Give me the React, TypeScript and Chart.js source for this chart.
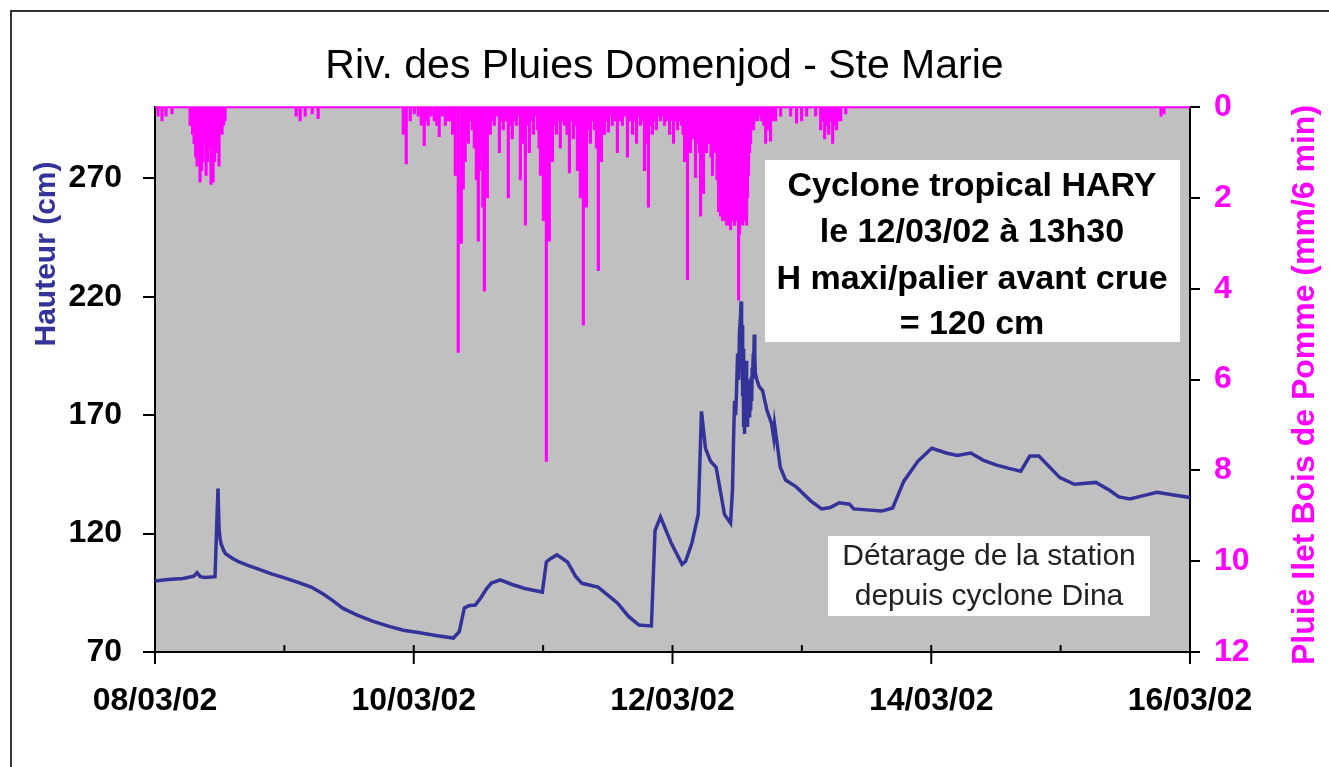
import React, { useEffect, useRef } from 'react';
import { Chart, registerables } from 'chart.js';

Chart.register(...registerables);

const FONT = '"Liberation Sans", Arial, Helvetica, sans-serif';

const TITLE = 'Riv. des Pluies Domenjod - Ste Marie';
const LEFT_AXIS_TITLE = 'Hauteur (cm)';
const RIGHT_AXIS_TITLE = 'Pluie Ilet Bois de Pomme (mm/6 min)';

// x axis: days since 08/03/02 00:00
const DATE_LABELS = ['08/03/02', '09/03/02', '10/03/02', '11/03/02', '12/03/02', '13/03/02', '14/03/02', '15/03/02', '16/03/02'];
const LEVEL_TICKS = [70, 120, 170, 220, 270];
const RAIN_TICK_STEP = 2;

// Water level (cm)
const levelDays = [
  0, 0.10, 0.217, 0.30, 0.325, 0.35, 0.387, 0.464, 0.478, 0.487, 0.495, 0.503, 0.511, 0.53, 0.545,
  0.60, 0.65, 0.712, 0.80, 0.90, 0.983, 1.10, 1.207, 1.30, 1.369, 1.45, 1.563, 1.68,
  1.810, 1.92, 2.035, 2.17, 2.306, 2.352, 2.391, 2.43, 2.476, 2.52, 2.560, 2.600, 2.669, 2.76, 2.859, 2.994,
  3.025, 3.060, 3.107, 3.188, 3.250, 3.300, 3.424, 3.50, 3.574, 3.66, 3.741, 3.837, 3.865, 3.907,
  3.99, 4.074, 4.101, 4.150, 4.199, 4.224, 4.255, 4.294, 4.337, 4.370, 4.402, 4.449,
  4.464, 4.472, 4.480, 4.488, 4.495, 4.503, 4.511, 4.518, 4.526, 4.530, 4.534, 4.538, 4.542, 4.546,
  4.550, 4.554, 4.557, 4.561, 4.565, 4.569, 4.573, 4.577, 4.580, 4.584, 4.588, 4.592, 4.596, 4.600,
  4.604, 4.608, 4.612, 4.616, 4.619, 4.624, 4.627, 4.632, 4.636, 4.640, 4.647, 4.654, 4.670, 4.696,
  4.730, 4.766, 4.782, 4.789, 4.833, 4.874, 4.959, 5.068, 5.153, 5.220, 5.288, 5.369, 5.400, 5.500,
  5.617, 5.702, 5.787, 5.896, 6.004, 6.116, 6.200, 6.306, 6.400, 6.499, 6.600, 6.692, 6.762, 6.832,
  6.994, 7.106, 7.273, 7.381, 7.450, 7.536, 7.640, 7.745, 7.850, 7.992, 8.0,
];
const levelCm = [
  100, 100.6, 101, 102, 103.5, 101.8, 101.5, 101.8, 125, 139, 122, 118, 115.6, 113, 111.5,
  109.5, 108, 106.7, 105, 103, 101.6, 99.5, 97.4, 94.5, 91.9, 88.5, 85.6, 83,
  80.8, 79.2, 78.2, 77, 75.9, 78.6, 88.6, 89.6, 89.8, 93, 96.5, 99.1, 100.5, 98.5, 96.8, 95.3,
  108, 109.5, 111, 108, 102, 99, 97.4, 94, 90.7, 85, 81.4, 81, 121.3, 127,
  116, 107, 108.3, 116, 128, 171.6, 156, 150.5, 148, 138, 128, 124.4,
  139, 160, 176, 170, 180, 196, 185, 205, 212, 218, 195, 208, 178, 198,
  165, 185, 162, 190, 175, 193, 168, 185, 165, 180, 170, 183, 169, 182,
  172, 186, 176, 190, 185, 196, 190, 204, 195, 188, 186, 184.6, 182, 180.4,
  172, 166.4, 160.6, 166, 148, 142.6, 139.6, 133.8, 130.4, 131, 133, 132.4, 130.4, 130,
  129.5, 130.8, 142, 150.5, 156, 154, 153, 154, 151, 149, 147.5, 146.3, 152.7, 152.7,
  143.6, 140.8, 141.6, 138.2, 135.5, 134.6, 136, 137.4, 136.5, 135.3, 135.5,
];

// Rain (mm / 6 min)
const rainDays = [
  0.023, 0.054, 0.085, 0.132, 0.271, 0.290, 0.302, 0.314, 0.325, 0.337, 0.348, 0.360, 0.371, 0.383, 0.395, 0.407,
  0.418, 0.433, 0.449, 0.460, 0.472, 0.484, 0.495, 0.507, 0.518, 0.530, 0.542,
  1.091, 1.122, 1.161, 1.215, 1.261,
  1.919, 1.942, 1.973, 2.005, 2.035, 2.058, 2.081, 2.097, 2.112, 2.135, 2.159, 2.178, 2.197, 2.220, 2.244, 2.263,
  2.282, 2.300, 2.321, 2.344, 2.368, 2.383, 2.398, 2.410, 2.422, 2.437, 2.453, 2.468, 2.484, 2.499, 2.510, 2.522,
  2.534, 2.546, 2.557, 2.569, 2.580, 2.592, 2.608, 2.623, 2.642, 2.662, 2.677, 2.692, 2.711, 2.731, 2.746, 2.762,
  2.777, 2.793, 2.808, 2.824, 2.843, 2.863, 2.878, 2.894, 2.910, 2.925, 2.940, 2.956, 2.968, 2.979, 2.990, 3.002,
  3.014, 3.025, 3.037, 3.048, 3.060, 3.072, 3.087, 3.103, 3.118, 3.133, 3.148, 3.164, 3.184, 3.203, 3.218, 3.234,
  3.250, 3.265, 3.276, 3.288, 3.300, 3.311, 3.323, 3.335, 3.350, 3.366, 3.381, 3.397, 3.412, 3.427, 3.439, 3.451,
  3.462, 3.474, 3.490, 3.505, 3.520, 3.536, 3.555, 3.574, 3.594, 3.613, 3.632, 3.652, 3.671, 3.691, 3.706, 3.722,
  3.737, 3.752, 3.768, 3.783, 3.798, 3.814, 3.830, 3.845, 3.860, 3.876, 3.891, 3.907, 3.922, 3.938, 3.957, 3.977,
  3.992, 4.008, 4.023, 4.039, 4.054, 4.070, 4.081, 4.093, 4.104, 4.116, 4.128, 4.139, 4.151, 4.163, 4.178, 4.190,
  4.201, 4.209, 4.217, 4.228, 4.240, 4.251, 4.263, 4.275, 4.286, 4.298, 4.309, 4.321, 4.333, 4.344, 4.356, 4.364,
  4.371, 4.379, 4.387, 4.395, 4.402, 4.410, 4.418, 4.425, 4.433, 4.441, 4.449, 4.456, 4.464, 4.472, 4.480, 4.488,
  4.495, 4.503, 4.511, 4.518, 4.526, 4.534, 4.542, 4.550, 4.557, 4.565, 4.573, 4.580, 4.588, 4.596, 4.604, 4.615,
  4.627, 4.642, 4.658, 4.673, 4.689, 4.705, 4.720, 4.739, 4.758, 4.777, 4.797, 4.836, 4.913, 4.959, 4.998, 5.037,
  5.106, 5.145, 5.160, 5.176, 5.191, 5.207, 5.222, 5.238, 5.253, 5.269, 5.285, 5.300, 5.339,
  7.776, 7.799,
];
const rainMm = [
  0.2, 0.3, 0.2, 0.15, 0.4, 0.6, 0.8, 1.1, 1.3, 1.0, 1.65, 1.4, 1.2, 0.8, 1.5, 1.2,
  0.9, 1.7, 1.65, 1.2, 1.0, 0.8, 1.3, 0.5, 0.6, 0.4, 0.3,
  0.2, 0.3, 0.2, 0.15, 0.25,
  0.6, 1.25, 0.3, 0.15, 0.2, 0.4, 0.85, 0.3, 0.4, 0.2, 0.3, 0.4, 0.65, 0.2, 0.4, 0.3,
  0.3, 0.6, 1.5, 5.4, 3.0, 1.8, 1.2, 0.6, 0.8, 0.3, 0.5, 0.9, 1.6, 2.95, 1.4, 1.0,
  2.2, 4.05, 1.1, 2.0, 0.5, 0.6, 0.3, 0.4, 0.2, 1.0, 0.3, 0.5, 0.3, 2.0, 0.4, 0.7,
  0.3, 0.4, 0.2, 1.6, 0.8, 2.6, 0.4, 1.0, 0.3, 0.6, 0.2, 0.5, 0.9, 1.5, 1.1, 2.5,
  0.8, 7.8, 1.2, 2.95, 0.6, 1.2, 0.4, 0.6, 0.3, 0.9, 0.3, 0.4, 0.6, 1.45, 0.3, 0.7,
  0.4, 1.4, 0.9, 2.0, 1.2, 4.8, 1.0, 2.2, 0.5, 0.8, 0.3, 0.5, 0.9, 3.6, 0.5, 1.2,
  0.3, 0.6, 0.3, 0.55, 0.2, 0.4, 0.3, 1.0, 0.3, 0.4, 0.2, 1.1, 0.3, 0.6, 0.3, 0.8,
  0.2, 0.4, 0.3, 1.4, 0.8, 2.2, 0.4, 0.6, 0.3, 0.5, 0.2, 0.3, 0.2, 0.4, 0.3, 0.6,
  0.3, 0.8, 0.3, 0.5, 0.3, 0.4, 0.6, 1.2, 0.9, 3.8, 0.8, 1.0, 0.4, 0.7, 1.55, 0.6,
  0.8, 1.0, 2.4, 1.2, 1.9, 0.7, 1.0, 0.5, 0.8, 1.1, 1.5, 1.0, 0.9, 1.6, 2.3, 2.1,
  2.4, 2.2, 2.5, 2.3, 2.3, 2.5, 2.6, 2.2, 2.4, 2.6, 2.7, 2.3, 2.5, 2.4, 2.6, 2.2,
  2.4, 2.5, 4.25, 2.8, 2.5, 2.3, 2.6, 2.4, 2.3, 2.5, 2.6, 2.0, 1.5, 1.0, 0.8, 0.4,
  0.5, 0.3, 0.3, 0.2, 0.3, 0.4, 0.8, 0.5, 0.75, 0.3, 0.3, 0.2, 0.2, 0.35, 0.3, 0.2,
  0.2, 0.5, 0.3, 0.7, 0.4, 0.6, 0.3, 0.8, 0.4, 0.5, 0.3, 0.3, 0.15,
  0.2, 0.15,
];

const NOTE_HARY = ['Cyclone tropical HARY', 'le 12/03/02 à 13h30', 'H maxi/palier avant crue', '= 120 cm'];
const NOTE_DINA = ['Détarage de la station', 'depuis cyclone Dina'];

const LEVEL_COLOR = '#333399';
const RAIN_COLOR = '#FF00FF';

const decorPlugin = {
  id: 'decor',
  beforeDraw(chart: any) {
    const { ctx, chartArea: a } = chart;
    ctx.save();
    ctx.fillStyle = '#ffffff';
    ctx.fillRect(0, 0, chart.width, chart.height);
    ctx.fillStyle = '#C0C0C0';
    ctx.fillRect(a.left, a.top, a.right - a.left, a.bottom - a.top);
    ctx.strokeStyle = '#333333';
    ctx.lineWidth = 2;
    ctx.beginPath();
    ctx.moveTo(11, chart.height + 5);
    ctx.lineTo(11, 11);
    ctx.lineTo(chart.width + 5, 11);
    ctx.stroke();
    ctx.restore();
  },
  afterDatasetsDraw(chart: any) {
    const { ctx, chartArea: a, scales } = chart;
    const xs = scales.x;
    const y2 = scales.y2;
    ctx.save();
    // zero-rain line at top
    const zeroY = y2.getPixelForValue(0);
    ctx.strokeStyle = RAIN_COLOR;
    ctx.lineWidth = 2;
    ctx.beginPath();
    ctx.moveTo(a.left, zeroY);
    ctx.lineTo(a.right, zeroY);
    ctx.stroke();
    // x tick marks (major cross axis, minor inside)
    ctx.strokeStyle = '#000';
    ctx.lineWidth = 2;
    for (let d = 0; d < DATE_LABELS.length; d++) {
      const px = xs.getPixelForValue(d);
      ctx.beginPath();
      if (d % 2 === 0) {
        ctx.moveTo(px, a.bottom - 7);
        ctx.lineTo(px, a.bottom + 12);
      } else {
        ctx.moveTo(px, a.bottom - 7);
        ctx.lineTo(px, a.bottom);
      }
      ctx.stroke();
    }
    // Note boxes
    ctx.fillStyle = '#ffffff';
    ctx.fillRect(765, 160, 415, 182);
    ctx.fillRect(828, 536, 322, 80);
    ctx.fillStyle = '#000';
    ctx.textAlign = 'center';
    ctx.textBaseline = 'middle';
    ctx.font = `bold 34px ${FONT}`;
    const haryY = [187, 233, 280, 325];
    NOTE_HARY.forEach((t, i) => ctx.fillText(t, 972, haryY[i]));
    ctx.fillStyle = '#222';
    ctx.font = `30px ${FONT}`;
    const dinaY = [557, 597];
    NOTE_DINA.forEach((t, i) => ctx.fillText(t, 989, dinaY[i]));
    // axis titles
    ctx.save();
    ctx.translate(47, 254);
    ctx.rotate(-Math.PI / 2);
    ctx.fillStyle = LEVEL_COLOR;
    ctx.font = `bold 30px ${FONT}`;
    ctx.fillText(LEFT_AXIS_TITLE, 0, 0);
    ctx.restore();
    ctx.save();
    ctx.translate(1305, 385);
    ctx.rotate(-Math.PI / 2);
    ctx.fillStyle = RAIN_COLOR;
    ctx.font = `bold 32px ${FONT}`;
    ctx.fillText(RIGHT_AXIS_TITLE, 0, 0);
    ctx.restore();
    ctx.restore();
  },
};

export default function App() {
  const canvasRef = useRef<HTMLCanvasElement | null>(null);

  useEffect(() => {
    if (!canvasRef.current) return;
    const tickFont = { family: FONT, size: 32, weight: 'bold' as const };
    const chart = new Chart(canvasRef.current, {
      type: 'line',
      data: {
        datasets: [
          {
            type: 'line',
            label: LEFT_AXIS_TITLE,
            data: levelDays.map((d, i) => ({ x: d, y: levelCm[i] })),
            borderColor: LEVEL_COLOR,
            borderWidth: 3.5,
            pointRadius: 0,
            tension: 0,
            fill: false,
            yAxisID: 'y',
            xAxisID: 'x',
            order: 0,
          } as any,
          {
            type: 'bar',
            label: RIGHT_AXIS_TITLE,
            data: rainDays.map((d, i) => ({ x: d, y: rainMm[i] })),
            backgroundColor: RAIN_COLOR,
            borderWidth: 0,
            barThickness: 2.5,
            yAxisID: 'y2',
            xAxisID: 'x',
            order: 1,
          } as any,
        ],
      },
      options: {
        responsive: false,
        animation: false,
        layout: { padding: { top: 20, left: 0, right: 0, bottom: 0 } },
        plugins: {
          legend: { display: false },
          tooltip: { enabled: false },
          title: {
            display: true,
            text: TITLE,
            color: '#000',
            font: { family: FONT, size: 41, weight: 'normal' },
            padding: { top: 22, bottom: 16 },
          },
        },
        scales: {
          x: {
            type: 'linear',
            min: 0,
            max: 8,
            offset: false,
            grid: { display: false, drawTicks: false },
            border: { display: true, color: '#000', width: 2 },
            ticks: {
              stepSize: 2,
              autoSkip: false,
              maxRotation: 0,
              color: '#000',
              font: tickFont,
              padding: 30,
              callback: (v: any) => DATE_LABELS[Math.round(Number(v))] ?? '',
            },
            afterFit: (s: any) => { s.height = 115; },
          },
          y: {
            type: 'linear',
            position: 'left',
            min: 70,
            max: 300,
            afterBuildTicks: (s: any) => { s.ticks = LEVEL_TICKS.map((v) => ({ value: v })); },
            grid: { drawOnChartArea: false, drawTicks: true, tickLength: 12, color: '#000', lineWidth: 2 },
            border: { display: true, color: '#000', width: 2 },
            ticks: { color: '#000', font: tickFont, padding: 21 },
            afterFit: (s: any) => { s.width = 155; },
          },
          y2: {
            type: 'linear',
            position: 'right',
            reverse: true,
            min: 0,
            max: 12,
            grid: { drawOnChartArea: false, drawTicks: true, tickLength: 10, color: '#000', lineWidth: 2 },
            border: { display: true, color: '#000', width: 2 },
            ticks: { stepSize: RAIN_TICK_STEP, color: RAIN_COLOR, font: tickFont, padding: 14 },
            afterFit: (s: any) => { s.width = 139; },
          },
        },
      },
      plugins: [decorPlugin],
    });
    return () => chart.destroy();
  }, []);

  return (
    <div style={{ position: 'absolute', left: 0, top: 0, width: 1329, height: 767 }}>
      <canvas ref={canvasRef} width={1329} height={767} style={{ display: 'block' }} />
    </div>
  );
}
